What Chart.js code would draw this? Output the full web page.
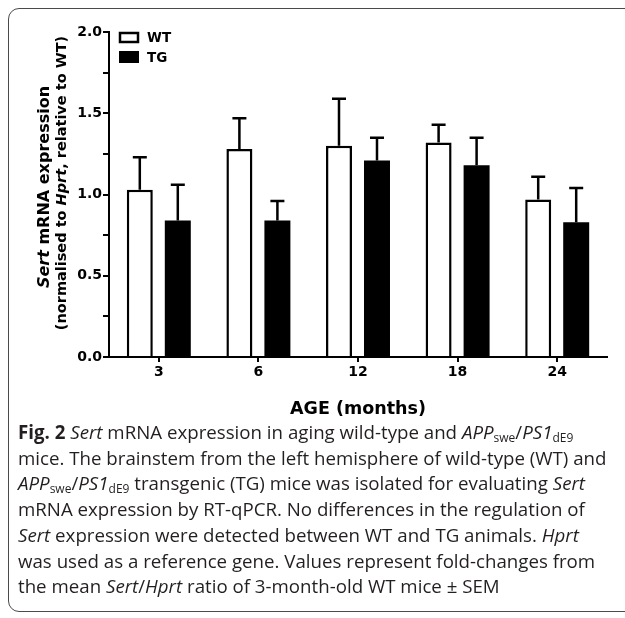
<!DOCTYPE html>
<html lang="en">
<head>
<meta charset="UTF-8">
<title>Sert mRNA expression</title>
<script src="https://cdn.jsdelivr.net/npm/chart.js"></script>
<style>
  html, body { margin: 0; padding: 0; width: 625px; height: 618px; overflow: hidden; background: #fff; }
  #chart { position: absolute; left: 0; top: 0; }
  .frame { position: absolute; left: 8px; top: 8px; width: 660px; height: 602px; border: 1.5px solid #4a4a4a; border-radius: 11px; pointer-events: none; }
  .caption { position: absolute; left: 18px; top: 419px; font-family: "Open Sans", sans-serif; font-size: 18.7px; line-height: 25.7px; color: #231f20; white-space: nowrap; }
  .caption b { font-weight: 700; }
  .caption sub { font-size: 12px; vertical-align: -3px; line-height: 0; }
</style>
</head>
<body>
<canvas id="chart" width="625" height="425"></canvas>
<div class="frame"></div>
<div class="caption">
  <b>Fig. 2</b> <i>Sert</i> mRNA expression in aging wild-type and <i>APP</i><sub>swe</sub>/<i>PS1</i><sub>dE9</sub><br>
  mice. The brainstem from the left hemisphere of wild-type (WT) and<br>
  <i>APP</i><sub>swe</sub>/<i>PS1</i><sub>dE9</sub> transgenic (TG) mice was isolated for evaluating <i>Sert</i><br>
  mRNA expression by RT-qPCR. No differences in the regulation of<br>
  <i>Sert</i> expression were detected between WT and TG animals. <i>Hprt</i><br>
  was used as a reference gene. Values represent fold-changes from<br>
  the mean <i>Sert</i>/<i>Hprt</i> ratio of 3-month-old WT mice ± SEM
</div>
<script>
  // dados
  const ages = ['3', '6', '12', '18', '24'];
  const wtMean = [1.03, 1.28, 1.30, 1.32, 0.97];
  const wtSem = [0.20, 0.19, 0.29, 0.11, 0.14];
  const tgMean = [0.84, 0.84, 1.21, 1.18, 0.83];
  const tgSem = [0.22, 0.12, 0.14, 0.17, 0.21];
  const yTicks = [0, 0.5, 1.0, 1.5, 2.0];

  const FONT = '"DejaVu Sans", sans-serif';

  // barras de erro (só para cima)
  const errorBars = {
    id: 'errorBars',
    afterDatasetsDraw(chart) {
      const ctx = chart.ctx;
      const y = chart.scales.y;
      ctx.save();
      ctx.strokeStyle = '#000';
      ctx.lineWidth = 2.5;
      chart.data.datasets.forEach((ds, i) => {
        const meta = chart.getDatasetMeta(i);
        meta.data.forEach((bar, j) => {
          const top = y.getPixelForValue(ds.data[j] + ds.sem[j]);
          ctx.beginPath();
          ctx.moveTo(bar.x, bar.y);
          ctx.lineTo(bar.x, top);
          ctx.moveTo(bar.x - 7, top);
          ctx.lineTo(bar.x + 7, top);
          ctx.stroke();
        });
      });
      ctx.restore();
    }
  };

  // titulo do eixo y com partes em italico + legenda no canto
  const extras = {
    id: 'extras',
    afterDraw(chart) {
      const ctx = chart.ctx;
      ctx.save();
      ctx.fillStyle = '#000';
      ctx.textBaseline = 'middle';

      function mixed(parts, cx, cy) {
        ctx.save();
        ctx.translate(cx, cy);
        ctx.rotate(-Math.PI / 2);
        let w = 0;
        parts.forEach(p => { ctx.font = p[1]; w += ctx.measureText(p[0]).width; });
        let x = -w / 2;
        parts.forEach(p => {
          ctx.font = p[1];
          ctx.textAlign = 'left';
          ctx.fillText(p[0], x, 0);
          x += ctx.measureText(p[0]).width;
        });
        ctx.restore();
      }
      mixed([['Sert', 'italic bold 16px ' + FONT], [' mRNA expression', 'bold 16px ' + FONT]], 45, 187);
      mixed([['(normalised to ', 'bold 14.5px ' + FONT], ['Hprt', 'italic bold 14.5px ' + FONT],
             [', relative to WT)', 'bold 14.5px ' + FONT]], 62, 183);

      // legenda
      const ds = chart.data.datasets;
      ctx.lineWidth = 2.5;
      ctx.strokeStyle = '#000';
      ctx.strokeRect(120, 33, 18, 9);
      ctx.fillStyle = '#000';
      ctx.fillRect(119, 51, 20, 12);
      ctx.font = 'bold 13.5px ' + FONT;
      ctx.textAlign = 'left';
      ctx.fillText(ds[0].label, 147, 38);
      ctx.fillText(ds[1].label, 147, 58);
      ctx.restore();
    }
  };

  new Chart(document.getElementById('chart'), {
    type: 'bar',
    data: {
      labels: ages,
      datasets: [
        { label: 'WT', data: wtMean, sem: wtSem, backgroundColor: '#fff', borderColor: '#000', borderWidth: 2.5 },
        { label: 'TG', data: tgMean, sem: tgSem, backgroundColor: '#000', borderColor: '#000', borderWidth: 0 }
      ]
    },
    options: {
      responsive: false,
      animation: false,
      devicePixelRatio: 1,
      categoryPercentage: 0.763,
      barPercentage: 0.684,
      layout: { padding: { top: 32, right: 18, left: 0, bottom: 0 } },
      plugins: { legend: { display: false }, tooltip: { enabled: false } },
      scales: {
        y: {
          min: 0,
          max: 2,
          ticks: {
            stepSize: 0.25,
            color: '#000',
            padding: 1,
            font: { family: FONT, size: 14, weight: 'bold' },
            callback: v => yTicks.includes(v) ? v.toFixed(1) : ''
          },
          grid: { drawOnChartArea: false, color: '#000', lineWidth: 2, tickLength: 6 },
          border: { color: '#000', width: 2 },
          afterFit: s => { s.width = 109; }
        },
        x: {
          ticks: { color: '#000', padding: 2, font: { family: FONT, size: 14, weight: 'bold' } },
          grid: { offset: false, drawOnChartArea: false, color: '#000', lineWidth: 2, tickLength: 5 },
          border: { color: '#000', width: 2 },
          title: { display: true, text: 'AGE (months)', color: '#000', padding: { top: 0, bottom: 5 },
                   font: { family: FONT, size: 17.5, weight: 'bold' } },
          afterFit: s => { s.height = 68; }
        }
      }
    },
    plugins: [errorBars, extras]
  });
</script>
</body>
</html>
